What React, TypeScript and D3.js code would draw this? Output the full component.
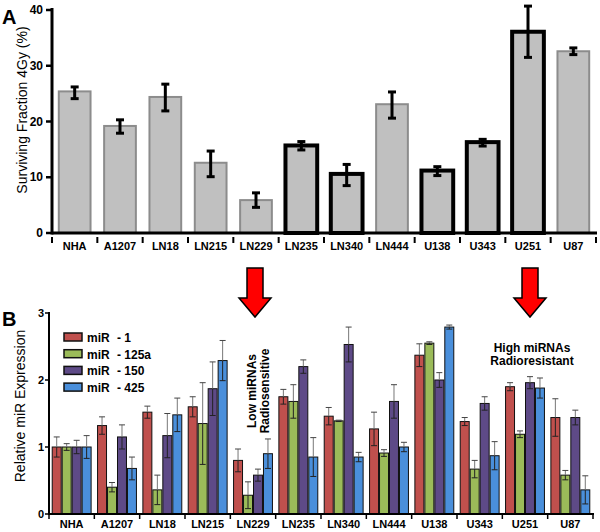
import React from "react";
import * as d3 from "d3";

const cellLines = ["NHA", "A1207", "LN18", "LN215", "LN229", "LN235", "LN340", "LN444", "U138", "U343", "U251", "U87"];
const survival = [25.4, 19.2, 24.4, 12.6, 5.9, 15.7, 10.6, 23.1, 11.2, 16.3, 36.1, 32.6];
const survivalLow = [24.1, 17.9, 21.9, 10.1, 4.6, 14.9, 8.5, 20.6, 10.3, 15.6, 31.5, 32.0];
const survivalHigh = [26.2, 20.3, 26.7, 14.7, 7.2, 16.4, 12.3, 25.3, 11.9, 16.8, 40.7, 33.2];
const boldLines = ["LN235", "LN340", "U138", "U343", "U251"];
const survivalTicks = [0, 10, 20, 30, 40];

const mirNames = ["miR  - 1", "miR  - 125a", "miR  - 150", "miR  - 425"];
const mirColors = ["#C0504D", "#9BBB59", "#5E4A87", "#4A8FDB"];
const mir1 = [1.0, 1.32, 1.52, 1.6, 0.8, 1.75, 1.46, 1.27, 2.37, 1.38, 1.9, 1.44];
const mir1Err = [0.15, 0.13, 0.09, 0.15, 0.17, 0.11, 0.13, 0.25, 0.17, 0.06, 0.06, 0.28];
const mir125a = [1.0, 0.4, 0.36, 1.35, 0.28, 1.68, 1.39, 0.91, 2.55, 0.67, 1.19, 0.58];
const mir125aErr = [0.05, 0.07, 0.22, 0.61, 0.2, 0.25, 0.01, 0.05, 0.02, 0.13, 0.05, 0.07];
const mir150 = [1.0, 1.15, 1.17, 1.87, 0.58, 2.2, 2.53, 1.68, 2.0, 1.65, 1.96, 1.44];
const mir150Err = [0.1, 0.18, 0.33, 0.4, 0.09, 0.1, 0.26, 0.25, 0.11, 0.1, 0.09, 0.11];
const mir425 = [1.0, 0.68, 1.48, 2.29, 0.9, 0.85, 0.85, 1.0, 2.79, 0.87, 1.88, 0.36];
const mir425Err = [0.17, 0.17, 0.25, 0.3, 0.22, 0.29, 0.07, 0.07, 0.03, 0.21, 0.15, 0.21];
const mirTicks = [0, 1, 2, 3];

const FONT = "'Liberation Sans', Arial, sans-serif";

export default function App() {
  // Panel A scales
  const xA = d3.scaleBand<string>().domain(cellLines).range([52, 596]).paddingInner(0.3).paddingOuter(0.15);
  const yA = d3.scaleLinear().domain([0, 40]).range([233, 10]);
  const stepA = xA.step();
  const startA = 52;

  // Panel B scales
  const xB = d3.scaleBand<string>().domain(cellLines).range([49, 593]).paddingInner(0.12).paddingOuter(0.06);
  const sub = d3.scaleBand<string>().domain(mirNames).range([0, xB.bandwidth()]).padding(0);
  const yB = d3.scaleLinear().domain([0, 3]).range([514, 313]);
  const series = [
    { v: mir1, e: mir1Err },
    { v: mir125a, e: mir125aErr },
    { v: mir150, e: mir150Err },
    { v: mir425, e: mir425Err },
  ];

  const arrow = (cx: number, top: number) => {
    const tip = 317, headY = 298, sw = 8, hw = 16;
    const p = d3.path();
    p.moveTo(cx - sw, top);
    p.lineTo(cx + sw, top);
    p.lineTo(cx + sw, headY);
    p.lineTo(cx + hw, headY);
    p.lineTo(cx, tip);
    p.lineTo(cx - hw, headY);
    p.lineTo(cx - sw, headY);
    p.closePath();
    return <path d={p.toString()} fill="#FF0000" stroke="#000" strokeWidth={1.5} />;
  };

  return (
    <svg width={600} height={532} style={{ position: "absolute", left: 0, top: 0, background: "#fff" }} fontFamily={FONT}>
      {/* Panel A */}
      <text x={2} y={24} fontSize={20} fontWeight="bold">A</text>
      <text transform={`translate(27,110) rotate(-90)`} textAnchor="middle" fontSize={14}>Surviving Fraction 4Gy (%)</text>
      {cellLines.map((c, i) => {
        const bold = boldLines.includes(c);
        const x = xA(c)!;
        const w = xA.bandwidth();
        const sw = bold ? 4 : 2;
        return (
          <g key={c}>
            <rect x={x} y={yA(survival[i])} width={w} height={yA(0) - yA(survival[i])}
              fill="#C0C0C0" stroke={bold ? "#000" : "#8C8C8C"} strokeWidth={sw} />
          </g>
        );
      })}
      {cellLines.map((c, i) => {
        const cx = xA(c)! + xA.bandwidth() / 2;
        return (
          <g key={c + "e"} stroke="#000" strokeWidth={3}>
            <line x1={cx} x2={cx} y1={yA(survivalLow[i])} y2={yA(survivalHigh[i])} />
            <line x1={cx - 4} x2={cx + 4} y1={yA(survivalLow[i])} y2={yA(survivalLow[i])} />
            <line x1={cx - 4} x2={cx + 4} y1={yA(survivalHigh[i])} y2={yA(survivalHigh[i])} />
          </g>
        );
      })}
      <line x1={52} x2={52} y1={yA(40) - 2} y2={yA(0) + 1.5} stroke="#000" strokeWidth={3} />
      <line x1={52} x2={597} y1={yA(0)} y2={yA(0)} stroke="#000" strokeWidth={3} />
      {survivalTicks.map((t) => (
        <g key={t}>
          <line x1={46} x2={52} y1={yA(t)} y2={yA(t)} stroke="#000" strokeWidth={2.5} />
          <text x={43} y={yA(t) + 4} textAnchor="end" fontSize={12} fontWeight="bold">{t}</text>
        </g>
      ))}
      {d3.range(cellLines.length + 1).map((i) => (
        <line key={i} x1={startA + i * stepA} x2={startA + i * stepA} y1={237} y2={243} stroke="#000" strokeWidth={2} />
      ))}
      {cellLines.map((c) => (
        <text key={c + "l"} x={xA(c)! + xA.bandwidth() / 2} y={250} textAnchor="middle" fontSize={11} fontWeight="bold">{c}</text>
      ))}

      {/* Arrows */}
      {arrow(255, 268)}
      {arrow(530, 268)}

      {/* Panel B */}
      <text x={2} y={326} fontSize={20} fontWeight="bold">B</text>
      <text transform={`translate(25,406) rotate(-90)`} textAnchor="middle" fontSize={14}>Relative miR Expression</text>
      {cellLines.map((c, i) => (
        <g key={c + "b"} transform={`translate(${xB(c)},0)`}>
          {series.map((s, k) => {
            const x = sub(mirNames[k])!;
            const w = sub.bandwidth();
            return (
              <rect key={k} x={x + 0.5} y={yB(s.v[i])} width={w - 1} height={yB(0) - yB(s.v[i])}
                fill={mirColors[k]} stroke="#111" strokeWidth={1} />
            );
          })}
          {series.map((s, k) => {
            const cx = sub(mirNames[k])! + sub.bandwidth() / 2;
            const lo = yB(s.v[i] - s.e[i]);
            const hi = yB(s.v[i] + s.e[i]);
            return (
              <g key={"e" + k} strokeWidth={1}>
                <line x1={cx} x2={cx} y1={yB(s.v[i])} y2={hi} stroke="#777" />
                <line x1={cx} x2={cx} y1={lo} y2={yB(s.v[i])} stroke="#222" />
                <line x1={cx - 3} x2={cx + 3} y1={hi} y2={hi} stroke="#444" />
                <line x1={cx - 3} x2={cx + 3} y1={lo} y2={lo} stroke="#222" />
              </g>
            );
          })}
        </g>
      ))}
      <line x1={49} x2={49} y1={yB(3) - 1} y2={yB(0) + 1} stroke="#000" strokeWidth={2} />
      <line x1={48} x2={594} y1={yB(0)} y2={yB(0)} stroke="#000" strokeWidth={2} />
      {mirTicks.map((t) => (
        <g key={t}>
          <line x1={45} x2={49} y1={yB(t)} y2={yB(t)} stroke="#000" strokeWidth={1.5} />
          <text x={44} y={yB(t) + 4} textAnchor="end" fontSize={11} fontWeight="bold">{t}</text>
        </g>
      ))}
      {d3.range(cellLines.length + 1).map((i) => {
        const x = 49 + i * xB.step();
        return <line key={i} x1={x} x2={x} y1={514} y2={519} stroke="#000" strokeWidth={1.5} />;
      })}
      {cellLines.map((c) => (
        <text key={c + "bl"} x={xB(c)! + xB.bandwidth() / 2} y={528} textAnchor="middle" fontSize={11} fontWeight="bold">{c}</text>
      ))}

      {/* Legend */}
      {mirNames.map((n, k) => {
        const y = 333 + k * 16.7;
        const parts = n.split("  ");
        return (
          <g key={n}>
            <rect x={64} y={y} width={18} height={8} fill={mirColors[k]} stroke="#111" strokeWidth={1.5} />
            <text x={87} y={y + 9} fontSize={12} fontWeight="bold">{parts[0]}</text>
            <text x={117} y={y + 9} fontSize={12} fontWeight="bold">{parts[1]}</text>
          </g>
        );
      })}

      {/* Annotations */}
      <text transform={`translate(256,391) rotate(-90)`} textAnchor="middle" fontSize={12} fontWeight="bold">
        <tspan x={0} dy={0}>Low miRNAs</tspan>
        <tspan x={0} dy={13}>Radiosensitive</tspan>
      </text>
      <text x={532} y={352} textAnchor="middle" fontSize={12} fontWeight="bold">High miRNAs</text>
      <text x={532} y={365} textAnchor="middle" fontSize={12} fontWeight="bold">Radioresistant</text>
    </svg>
  );
}
